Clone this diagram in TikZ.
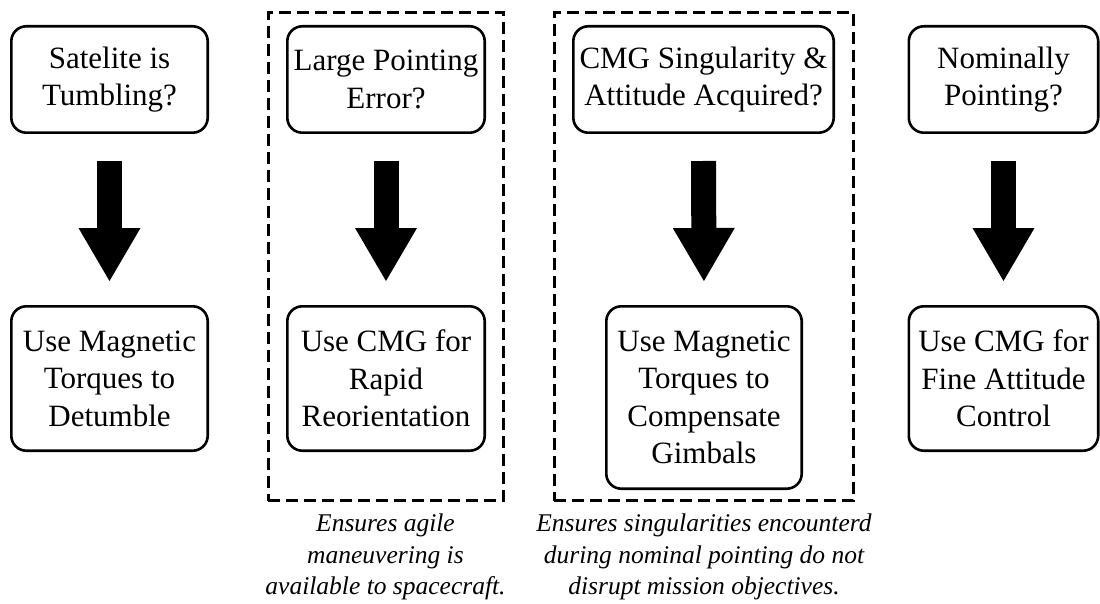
\documentclass[tikz,border=0pt]{standalone}
\usepackage{fontspec}
\setmainfont{Liberation Serif}
\usetikzlibrary{arrows.meta}
\begin{document}
\begin{tikzpicture}[x=1pt,y=-1pt,
  stepbox/.style={draw, line width=2.6pt, rounded corners=15pt, inner sep=0pt,
    align=center, font=\fontsize{31}{37.5}\selectfont},
  flow/.style={line width=25pt, -{Triangle[width=62pt,length=53pt,line width=0pt]},
    shorten <=27pt, shorten >=24pt},
  group/.style={draw, line width=2.8pt, dash pattern=on 12pt off 6pt, inner sep=0pt},
  note/.style={align=center, font=\fontsize{25.5}{31.5}\selectfont\itshape}]
\useasboundingbox (0,0) rectangle (1100,604);

% dashed groups
\node[group, minimum width=235.2pt, minimum height=488.2pt] (g2) at (386,256.5) {};
\node[group, minimum width=299.2pt, minimum height=488.2pt] (g3) at (704,256.5) {};

% boxes
\node[stepbox, minimum width=196.4pt, minimum height=106.4pt] (t1) at (109.5,79.5) {Satelite is\\Tumbling?};
\node[stepbox, minimum width=196.4pt, minimum height=144.4pt] (b1) at (109.5,378.5) {Use Magnetic\\Torques to\\Detumble};
\node[stepbox, minimum width=197.4pt, minimum height=106.4pt] (t2) at (386,79.5) {Large Pointing\\Error?};
\node[stepbox, minimum width=197.4pt, minimum height=144.4pt] (b2) at (386,378.5) {Use CMG for\\Rapid\\Reorientation};
\node[stepbox, minimum width=260.4pt, minimum height=106.4pt] (t3) at (703.5,79.5) {CMG Singularity \&\\Attitude Acquired?};
\node[stepbox, minimum width=195.4pt, minimum height=182.4pt] (b3) at (704,397.5) {Use Magnetic\\Torques to\\Compensate\\Gimbals};
\node[stepbox, minimum width=189.4pt, minimum height=106.4pt] (t4) at (1003.5,79.5) {Nominally\\Pointing?};
\node[stepbox, minimum width=189.4pt, minimum height=144.4pt] (b4) at (1003.5,378.5) {Use CMG for\\Fine Attitude\\Control};

% block arrows
\draw[flow] (t1.south) -- (b1.north);
\draw[flow] (t2.south) -- (b2.north);
\draw[flow] (t3.south) -- (b3.north);
\draw[flow] (t4.south) -- (b4.north);

% notes
\node[note] (n2) at (385.5,557) {Ensures agile\\maneuvering is\\available to spacecraft.};
\node[note] (n3) at (704,557) {Ensures singularities encounterd\\during nominal pointing do not\\disrupt mission objectives.};
\end{tikzpicture}
\end{document}
